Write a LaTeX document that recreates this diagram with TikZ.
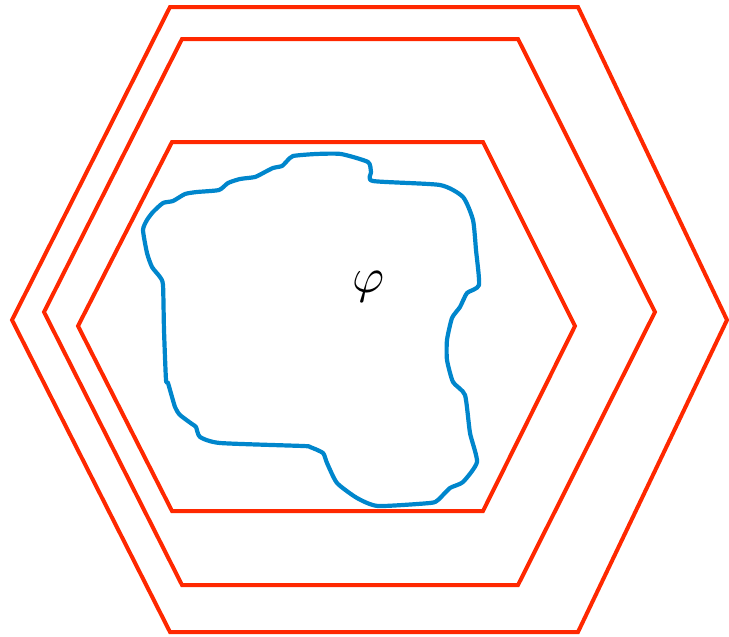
\documentclass[tikz,border=0pt]{standalone}
\usepackage{tikz}

\definecolor{hexred}{RGB}{255,40,0}
\definecolor{curveblue}{RGB}{0,134,204}

\begin{document}
\begin{tikzpicture}[x=1pt, y=-1pt, line width=4pt, line cap=round, line join=round,
  hexline/.style={draw=hexred, line join=miter},
  blobline/.style={draw=curveblue, line width=4.2pt}]

  %% ==== hexagons (outer -> inner) ====
  \draw[hexline] (170,7) -- (578,7) -- (727,320) -- (578,632) -- (170,632) -- (12,320) -- cycle;
  \draw[hexline] (182,39) -- (518,39) -- (655,312) -- (518,585) -- (182,585) -- (44,312) -- cycle;
  \draw[hexline] (172,142) -- (483,142) -- (575,326) -- (483,511) -- (172,511) -- (78,326) -- cycle;

  %% ==== blue closed curve ====
  \draw[blobline] plot[smooth cycle, tension=0.35] coordinates {
    (293,156) (316,154) (341,154) (368,162) (371,172) (373,181)
    (440,185) (463,197) (473,220) (476,250) (479,285)
    (467,293) (460,307) (452,318) (447,340) (447,360)
    (453,382) (465,395) (470,433) (477,462) (463,482)
    (450,488) (438,500) (430,503) (378,506) (357,498)
    (337,483) (327,463) (323,453) (310,447) (303,446)
    (220,443) (200,437) (196,427) (192,424) (180,415)
    (175,407) (168,383) (166,380) (164,330) (163,285)
    (160,277) (152,267) (147,253) (143,230) (147,220)
    (153,212) (163,203) (173,201) (185,194) (197,192)
    (219,190) (228,183) (240,179) (255,177) (265,172)
    (273,168) (282,166) (287,161)
  };

  %% ==== label ====
  \node[scale=4.9, inner sep=0pt] (phi) at (369,287) {$\varphi$};

  % fix canvas
  \pgfresetboundingbox
  \path[use as bounding box] (0,0) rectangle (729,637);
\end{tikzpicture}
\end{document}
